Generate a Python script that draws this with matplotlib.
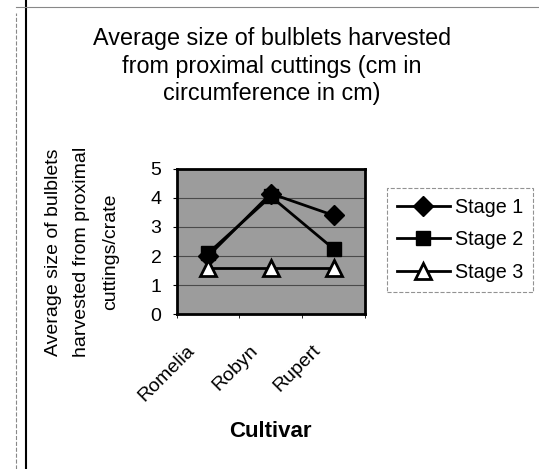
import matplotlib
matplotlib.use("Agg")
import matplotlib.pyplot as plt
from matplotlib.lines import Line2D
from matplotlib.transforms import ScaledTranslation

plt.rcParams["font.family"] = ["Liberation Sans", "DejaVu Sans"]

# datos
cultivars = ["Romelia", "Robyn", "Rupert"]
stage1 = [2.0, 4.15, 3.4]
stage2 = [2.1, 4.05, 2.25]
stage3 = [1.6, 1.6, 1.6]
series_names = ["Stage 1", "Stage 2", "Stage 3"]
yticks = [0, 1, 2, 3, 4, 5]

fig = plt.figure(figsize=(5.39, 4.69), dpi=100)
ax = fig.add_axes([0.328, 0.330, 0.349, 0.310])

x = [i + 0.5 for i in range(len(cultivars))]

ax.set_facecolor("#9c9c9c")
for yv in yticks[1:-1]:
    ax.axhline(yv, color="#4a4a4a", lw=0.8, zorder=1)

ax.plot(x, stage1, color="black", lw=2, marker="D", ms=10, mfc="black", mec="black", zorder=3)
ax.plot(x, stage2, color="black", lw=2, marker="s", ms=10, mfc="black", mec="black", zorder=3)
ax.plot(x, stage3, color="black", lw=2, marker="^", ms=11, mfc="white", mec="black", mew=2, zorder=3)

ax.set_xlim(0, 3)
ax.set_ylim(0, 5)
ax.set_yticks(yticks)
ax.set_yticklabels([str(v) for v in yticks], fontsize=14)
ax.set_xticks(x)
ax.set_xticklabels(cultivars, rotation=45, ha="right", va="center", rotation_mode="anchor", fontsize=14)
ax.tick_params(axis="x", length=0, pad=24)
ax.set_xticks([0, 1, 2, 3], minor=True)
ax.tick_params(axis="x", which="minor", length=3)
ax.tick_params(axis="y", length=3, pad=8)
# desplazar etiquetas a la izquierda como en Excel
shift = ScaledTranslation(-16 / 100, 0, fig.dpi_scale_trans)
for lbl in ax.get_xticklabels():
    lbl.set_transform(lbl.get_transform() + shift)
for s in ax.spines.values():
    s.set_linewidth(2)

ax.set_xlabel("Cultivar", fontsize=16, fontweight="bold", labelpad=12)

fig.text(0.152, 0.463, "Average size of bulblets\nharvested from proximal\ncuttings/crate",
         rotation=90, ha="center", va="center", multialignment="center", fontsize=14, linespacing=1.9)

fig.text(0.505, 0.859, "Average size of bulblets harvested\nfrom proximal cuttings (cm in\ncircumference in cm)",
         ha="center", va="center", fontsize=16.8, linespacing=1.25)

handles = [
    Line2D([], [], color="black", lw=2, marker="D", ms=10, mfc="black"),
    Line2D([], [], color="black", lw=2, marker="s", ms=10, mfc="black"),
    Line2D([], [], color="black", lw=2, marker="^", ms=11, mfc="white", mew=2),
]
leg = fig.legend(handles, series_names, loc="upper left", bbox_to_anchor=(0.718, 0.599),
                 fontsize=14.2, frameon=True, fancybox=False, handlelength=2.7,
                 borderpad=0.5, labelspacing=0.68, handletextpad=0.25, borderaxespad=0)
leg.get_frame().set_edgecolor("#777777")
leg.get_frame().set_linestyle("--")
leg.get_frame().set_linewidth(0.8)

# bordes de la figura
fig.add_artist(Line2D([0.048, 0.048], [0, 1], transform=fig.transFigure, color="black", lw=1.5))
fig.add_artist(Line2D([0.03, 0.03], [0, 0.972], transform=fig.transFigure, color="#888888", lw=0.8, ls="--"))
fig.add_artist(Line2D([0.03, 1], [0.985, 0.985], transform=fig.transFigure, color="#888888", lw=0.8))

fig.savefig("out.png", dpi=100)
